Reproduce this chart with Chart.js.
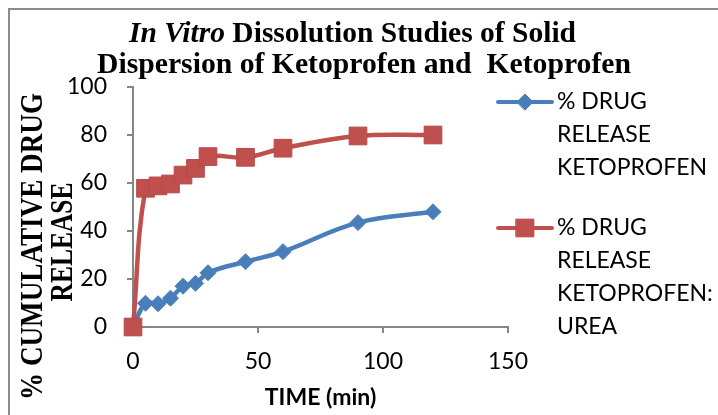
<!DOCTYPE html>
<html><head><meta charset="utf-8">
<script src="https://cdn.jsdelivr.net/npm/chart.js@4.4.1/dist/chart.umd.min.js"></script>
<style>html,body{margin:0;padding:0;background:#fff}#wrap{width:718px;height:415px;position:relative}</style>
</head><body><div id="wrap"><canvas id="c" width="718" height="415"></canvas></div>
<script>
// ---- data ----
const timeMin = [0, 5, 10, 15, 20, 25, 30, 45, 60, 90, 120];
const releaseKetoprofen = [0, 9.9, 9.7, 12, 17, 18.2, 22.6, 27.2, 31.4, 43.5, 48];
const releaseKetoUrea = [0, 57.8, 58.8, 59.6, 63.3, 66.1, 71, 70.7, 74.5, 79.6, 80];
const xTickValues = [0, 50, 100, 150];
const yTickValues = [0, 20, 40, 60, 80, 100];
const seriesNames = [
  ['% DRUG', 'RELEASE', 'KETOPROFEN'],
  ['% DRUG', 'RELEASE', 'KETOPROFEN:', 'UREA']
];
const titleLine1 = [{ text: 'In Vitro', italic: true }, { text: ' Dissolution Studies of Solid', italic: false }];
const titleLine2 = 'Dispersion of Ketoprofen and  Ketoprofen';
const yTitleLines = ['% CUMULATIVE DRUG', 'RELEASE'];
const xTitle = 'TIME (min)';

const BLUE = '#4a7ebb';
const RED = '#c0504d';
const AXIS = '#868686';

function pts(xs, ys) { return xs.map((x, i) => ({ x: x, y: ys[i] })); }

const decor = {
  id: 'decor',
  afterDraw(chart) {
    const ctx = chart.ctx;
    ctx.save();
    // outer frame
    ctx.strokeStyle = '#8c8c8c';
    ctx.lineWidth = 2;
    ctx.strokeRect(9, 9, 800, 500);

    // title
    ctx.fillStyle = '#000';
    ctx.textBaseline = 'alphabetic';
    const fB = 'bold 30px "Liberation Serif"';
    const fBI = 'italic bold 30px "Liberation Serif"';
    // line 1
    let w = 0;
    titleLine1.forEach(s => { ctx.font = s.italic ? fBI : fB; w += ctx.measureText(s.text).width; });
    let sx = 447 / w;
    ctx.save();
    ctx.translate(352.5, 42);
    ctx.scale(sx, 1);
    let cx = -w / 2;
    ctx.textAlign = 'left';
    titleLine1.forEach(s => { ctx.font = s.italic ? fBI : fB; ctx.fillText(s.text, cx, 0); cx += ctx.measureText(s.text).width; });
    ctx.restore();
    // line 2
    ctx.font = fB;
    w = ctx.measureText(titleLine2).width;
    sx = 534 / w;
    ctx.save();
    ctx.translate(364, 73);
    ctx.scale(sx, 1);
    ctx.textAlign = 'center';
    ctx.fillText(titleLine2, 0, 0);
    ctx.restore();

    // y axis title (rotated)
    const yPos = [[34, 246.5, 307], [64, 242, 119]];
    ctx.font = 'bold 31px "Liberation Serif"';
    ctx.textBaseline = 'middle';
    ctx.textAlign = 'center';
    yTitleLines.forEach((t, i) => {
      const [x, y, len] = yPos[i];
      const tw = ctx.measureText(t).width;
      ctx.save();
      ctx.translate(x, y);
      ctx.rotate(-Math.PI / 2);
      ctx.scale(len / tw, 1);
      ctx.fillText(t, 0, 0);
      ctx.restore();
    });

    // legend
    const legendY = [102, 228];
    ctx.font = '23px Lato';
    ctx.textAlign = 'left';
    ctx.textBaseline = 'middle';
    chart.data.datasets.forEach((ds, i) => {
      const y0 = legendY[i];
      ctx.strokeStyle = ds.borderColor;
      ctx.lineWidth = 4;
      ctx.lineCap = 'round';
      ctx.beginPath();
      ctx.moveTo(498, y0);
      ctx.lineTo(552, y0);
      ctx.stroke();
      ctx.fillStyle = ds.pointBackgroundColor;
      ctx.strokeStyle = ds.pointBorderColor;
      ctx.lineWidth = 1;
      Chart.helpers.drawPoint(ctx, { pointStyle: ds.pointStyle, radius: ds.pointRadius, borderWidth: 1, rotation: 0 }, 525, y0);
      ctx.fillStyle = '#000';
      ds.label.forEach((line, k) => ctx.fillText(line, 557, y0 + k * 32.8));
    });
    ctx.restore();
  }
};

new Chart(document.getElementById('c'), {
  type: 'line',
  data: {
    datasets: [
      {
        label: seriesNames[0], data: pts(timeMin, releaseKetoprofen),
        borderColor: BLUE, backgroundColor: BLUE, borderWidth: 4.5,
        pointStyle: 'rectRot', pointRadius: 8, pointBackgroundColor: BLUE, pointBorderColor: BLUE, pointBorderWidth: 1,
        tension: 0.4, clip: false, order: 1, fill: false
      },
      {
        label: seriesNames[1], data: pts(timeMin, releaseKetoUrea),
        borderColor: RED, backgroundColor: RED, borderWidth: 4.5,
        pointStyle: 'rect', pointRadius: 12.5, pointBackgroundColor: RED, pointBorderColor: '#b9494a', pointBorderWidth: 1,
        tension: 0.4, clip: false, order: 0, fill: false
      }
    ]
  },
  options: {
    responsive: false, animation: false, devicePixelRatio: 1,
    layout: { padding: { left: 0, top: 87, right: 210, bottom: 0 } },
    plugins: { legend: { display: false }, title: { display: false }, tooltip: { enabled: false } },
    scales: {
      x: {
        type: 'linear', min: 0, max: 150,
        afterBuildTicks: s => { s.ticks = xTickValues.map(v => ({ value: v })); },
        afterFit: s => { s.height = 88; },
        ticks: { color: '#000', font: { family: 'Lato', size: 23 }, padding: 15, maxRotation: 0 },
        grid: { drawOnChartArea: false, color: AXIS, lineWidth: 2, tickLength: 6 },
        border: { display: true, color: AXIS, width: 2 },
        title: { display: true, text: xTitle, color: '#000', font: { family: 'Lato', size: 23, weight: 'bold' }, padding: { top: 0, bottom: 4 } }
      },
      y: {
        type: 'linear', min: 0, max: 100,
        afterBuildTicks: s => { s.ticks = yTickValues.map(v => ({ value: v })); },
        afterFit: s => { s.width = 133; },
        ticks: { color: '#000', font: { family: 'Lato', size: 23 }, padding: 20 },
        grid: { drawOnChartArea: false, color: AXIS, lineWidth: 2, tickLength: 6 },
        border: { display: true, color: AXIS, width: 2 }
      }
    }
  },
  plugins: [decor]
});
</script>
</body></html>
